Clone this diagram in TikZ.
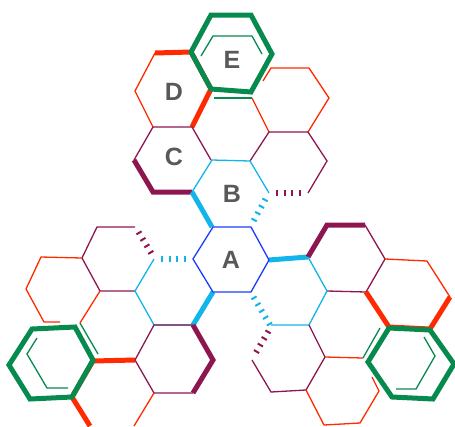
\documentclass[tikz,border=0pt]{standalone}
\usepackage{fontspec}
\setmainfont{Liberation Sans}
\definecolor{rd}{HTML}{FF2A00}
\definecolor{pu}{HTML}{8E1650}
\definecolor{cy}{HTML}{12B5EA}
\definecolor{bl}{HTML}{1A3CFF}
\definecolor{gr}{HTML}{068A4E}
\definecolor{lab}{HTML}{595959}
\tikzset{
  hair/.style={line width=1.3pt,line join=miter},
  fat/.style={line width=5pt,line join=miter},
  ticks/.style={line width=6pt,dash pattern=on 2pt off 5.6pt},
  lbl/.style={text=lab,font=\fontsize{25}{25}\selectfont\bfseries,inner sep=0pt,anchor=center}
}
\begin{document}
\begin{tikzpicture}[x=1pt,y=-1pt]
\useasboundingbox (0,0) rectangle (455,426);
% top cluster
\draw[hair,rd] (263,81) -- (271,68) -- (309,68) -- (329,98) -- (308,132);
\draw[hair,rd] (252,98) -- (269,132);
\draw[hair,gr] (214,98) -- (252,98);
\draw[hair,pu] (250,161) -- (269,132) -- (308,132) -- (327,161) -- (308,193);
\draw[ticks,pu] (276,193) -- (303,193);
\draw[hair,rd] (153,127) -- (135,91) -- (155,53);
\draw[fat,rd] (155,53) -- (191,52);
\draw[fat,rd] (191,52) -- (211,89) -- (192,127);
\draw[hair,pu] (211,160) -- (192,127) -- (153,127) -- (134,160);
\draw[fat,pu] (134,160) -- (153,192) -- (192,192);
\draw[hair,cy] (192,192) -- (212,160) -- (250,161) -- (269,193);
\draw[fat,cy] (192,192) -- (212,227);
\draw[ticks,cy] (265.5,199) -- (253,222);
\draw[fat,gr] (191,52) -- (211,15) -- (251,15) -- (272,54) -- (251,92) -- (211,89) -- cycle;
\draw[hair,gr] (201,56) -- (213,36) -- (252,36) -- (262,54);
% left cluster
\draw[hair,pu] (135,227) -- (97,227) -- (82,258) -- (100,291) -- (135,291);
\draw[ticks,pu] (138.5,232) -- (153,256);
\draw[hair,rd] (60,322) -- (44,322) -- (26,289) -- (41,257) -- (82,258);
\draw[hair,rd] (100,291) -- (80,323);
\draw[hair,gr] (80,323) -- (98,354);
\draw[hair,cy] (154,259) -- (135,291) -- (154,325) -- (193,325);
\draw[ticks,cy] (161,259) -- (187,259);
\draw[fat,cy] (193,325) -- (213,292);
\draw[hair,pu] (135,360) -- (154,325) -- (193,325);
\draw[hair,pu] (135,360) -- (154,393) -- (193,393);
\draw[fat,pu] (193,325) -- (213,360) -- (193,393);
\draw[hair,rd] (154,393) -- (134,426);
\draw[fat,rd] (135,360) -- (93,361) -- (72,397) -- (90,426);
\draw[fat,gr] (32,329) -- (75,327) -- (93,360) -- (72,397) -- (30,399) -- (9,365) -- cycle;
\draw[hair,gr] (37,338) -- (27,354) -- (47,388) -- (68,388);
% right cluster
\draw[fat,cy] (269,260) -- (308,257);
\draw[fat,pu] (308,257) -- (327,225) -- (365,225);
\draw[hair,pu] (365,225) -- (385,259) -- (366,292) -- (327,291);
\draw[hair,cy] (308,257) -- (327,291) -- (309,325) -- (271,325);
\draw[ticks,cy] (253.5,297) -- (270,325);
\draw[ticks,pu] (268.5,331) -- (254,356);
\draw[hair,pu] (309,325) -- (325,357) -- (306,390) -- (271,392) -- (252,360);
\draw[hair,rd] (325,357) -- (363,358);
\draw[hair,gr] (363,358) -- (380,328);
\draw[hair,rd] (306,390) -- (324,425) -- (360,423) -- (379,391) -- (372,377);
\draw[hair,rd] (385,259) -- (427,261) -- (450,297);
\draw[fat,rd] (366,292) -- (389,327) -- (430,329) -- (450,297);
\draw[fat,gr] (389,328) -- (430,330) -- (454,364) -- (433,399) -- (392,397) -- (368,362) -- cycle;
\draw[hair,gr] (424,337) -- (435,356) -- (416,389) -- (396,389);
% hexagon A
\draw[hair,bl] (213,227) -- (251,227) -- (269,260) -- (251,292) -- (213,292) -- (193,259) -- cycle;
% labels
\node[lbl] (A) at (231,260) {A};
\node[lbl] (B) at (232,194) {B};
\node[lbl] (C) at (174,157) {C};
\node[lbl] (D) at (174,92) {D};
\node[lbl] (E) at (232,60) {E};
\end{tikzpicture}
\end{document}
